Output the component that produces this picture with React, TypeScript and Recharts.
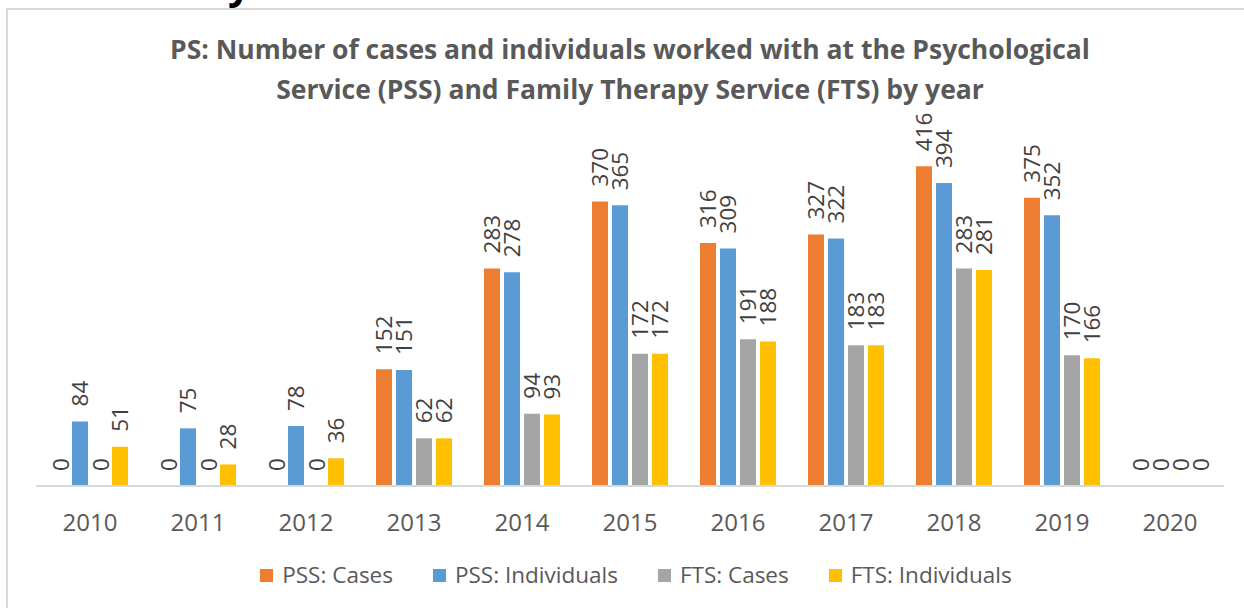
import { BarChart, Bar, XAxis, YAxis, Rectangle } from 'recharts';

// valores
const years = ['2010', '2011', '2012', '2013', '2014', '2015', '2016', '2017', '2018', '2019', '2020'];
const pssCases = [0, 0, 0, 152, 283, 370, 316, 327, 416, 375, 0];
const pssIndividuals = [84, 75, 78, 151, 278, 365, 309, 322, 394, 352, 0];
const ftsCases = [0, 0, 0, 62, 94, 172, 191, 183, 283, 170, 0];
const ftsIndividuals = [51, 28, 36, 62, 93, 172, 188, 183, 281, 166, 0];

const SERIES = [
  { key: 'pssCases', name: 'PSS: Cases', color: '#ED7D31' },
  { key: 'pssIndividuals', name: 'PSS: Individuals', color: '#5B9BD5' },
  { key: 'ftsCases', name: 'FTS: Cases', color: '#A5A5A5' },
  { key: 'ftsIndividuals', name: 'FTS: Individuals', color: '#FFC000' },
];

const data = years.map((year, i) => ({
  year,
  pssCases: pssCases[i],
  pssIndividuals: pssIndividuals[i],
  ftsCases: ftsCases[i],
  ftsIndividuals: ftsIndividuals[i],
}));

const FONT = '"Open Sans", sans-serif';

// barra + etiqueta girada (así también salen los ceros)
const BarWithLabel = (props: any) => {
  const { x, y, width, height, fill, value } = props;
  const v = Array.isArray(value) ? value[1] - value[0] : value;
  const cx = Number(x) + Number(width) / 2;
  const top = Math.min(Number(y), Number(y) + Number(height)) - 15;
  return (
    <g>
      {Number(height) > 0 && <Rectangle x={x} y={y} width={width} height={height} fill={fill} />}
      <text
        x={cx}
        y={top}
        transform={`rotate(-90 ${cx} ${top})`}
        textAnchor="start"
        dominantBaseline="central"
        fontSize={22.5}
        fontFamily={FONT}
        fill="#404040"
      >
        {v}
      </text>
    </g>
  );
};

const YearTick = (props: any) => {
  const { x, y, payload } = props;
  return (
    <text x={x} y={y + 27} textAnchor="middle" dominantBaseline="central" fontSize={24} fontFamily={FONT} fill="#595959">
      {payload.value}
    </text>
  );
};

export default function App() {
  return (
    <div style={{ position: 'fixed', left: 0, top: 0, width: '1244px', height: '608px', background: '#fff', overflow: 'hidden' }}>
      {/* resto del texto de la página, cortado arriba */}
      <svg width={1244} height={8} style={{ position: 'absolute', left: 0, top: 0 }}>
        <text x={228} y={-1} fontSize={40} fontWeight="bold" fontFamily={FONT} fill="#000">y</text>
      </svg>

      {/* marco del gráfico */}
      <div style={{ position: 'absolute', left: '6px', top: '8px', width: '1260px', height: '620px', borderLeft: '2px solid #d9d9d9', borderTop: '2px solid #d9d9d9' }}></div>

      <div style={{ position: 'absolute', left: 0, top: '29px', width: '1260px', textAlign: 'center', fontFamily: FONT, fontWeight: 'bold', fontSize: '26.5px', lineHeight: '40px', color: '#595959' }}>
        <div>PS: Number of cases and individuals worked with at the Psychological</div>
        <div>Service (PSS) and Family Therapy Service (FTS) by year</div>
      </div>

      <div style={{ position: 'absolute', left: 0, top: 0 }}>
        <BarChart width={1244} height={608} data={data} margin={{ top: 140, right: 20, bottom: 92, left: 36 }} barGap={4} barSize={16}>
          <XAxis dataKey="year" axisLine={{ stroke: '#d9d9d9', strokeWidth: 2 }} tickLine={false} tick={<YearTick />} interval={0} height={30} />
          <YAxis hide domain={[0, 450]} width={0} />
          {SERIES.map((s) => (
            <Bar key={s.key} dataKey={s.key} name={s.name} fill={s.color} isAnimationActive={false} shape={<BarWithLabel />} />
          ))}
        </BarChart>
      </div>

      {/* leyenda */}
      <div style={{ position: 'absolute', left: '26px', top: '560px', width: '1220px', display: 'flex', justifyContent: 'center', gap: '40px', fontFamily: FONT, fontSize: '22.5px', lineHeight: '30px', color: '#595959' }}>
        {SERIES.map((s) => (
          <div key={s.key} style={{ display: 'flex', alignItems: 'center', gap: '9px' }}>
            <div style={{ width: '13px', height: '13px', backgroundColor: s.color }}></div>
            <span>{s.name}</span>
          </div>
        ))}
      </div>
    </div>
  );
}
